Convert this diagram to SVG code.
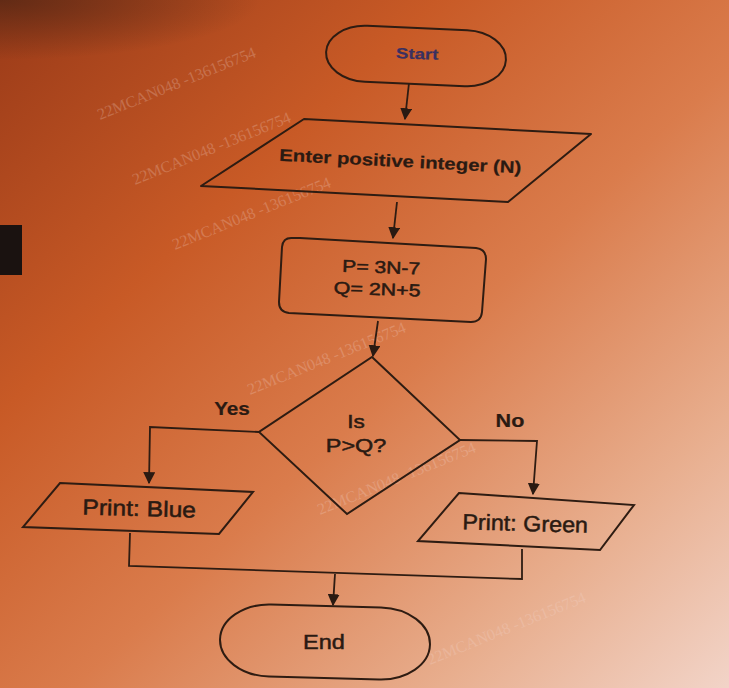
<svg xmlns="http://www.w3.org/2000/svg" width="729" height="688" viewBox="0 0 729 688">
<defs>
<linearGradient id="bg" x1="0" y1="0" x2="1" y2="1">
<stop offset="0" stop-color="#9a3a18"/>
<stop offset="0.3" stop-color="#c85a26"/>
<stop offset="0.55" stop-color="#da7c4c"/>
<stop offset="0.8" stop-color="#e8ae8e"/>
<stop offset="1" stop-color="#f2d4c8"/>
</linearGradient>
<radialGradient id="shade" cx="0" cy="0" r="1">
<stop offset="0" stop-color="#4a2414" stop-opacity="0.7"/>
<stop offset="1" stop-color="#4a2414" stop-opacity="0"/>
</radialGradient>
<marker id="ah" viewBox="0 0 10 10" refX="9" refY="5" markerWidth="12" markerHeight="12" orient="auto" markerUnits="userSpaceOnUse">
<path d="M0,0 L10,5 L0,10 z" fill="#2a1a12"/>
</marker>
<style>
.shape{fill:none;stroke:#2e1c12;stroke-width:2}
.line{fill:none;stroke:#2e1c12;stroke-width:1.8}
.t{font-family:"Liberation Sans",Arial,sans-serif;fill:#2a1a12;text-anchor:middle;stroke:#2a1a12;stroke-width:0.5}
.b{font-weight:bold;stroke-width:0.2}
.wm{font-family:"Liberation Serif","Times New Roman",serif;fill:#f4d8d0;opacity:0.25;font-size:16px}
</style>
</defs>
<rect width="729" height="688" fill="url(#bg)"/>
<rect x="0" y="0" width="260" height="60" fill="url(#shade)"/>
<rect x="0" y="225" width="22" height="50" fill="#1a1210"/>
<g id="watermarks">
<text class="wm" transform="translate(100,120) rotate(-22)">22MCAN048 -136156754</text>
<text class="wm" transform="translate(135,185) rotate(-22)">22MCAN048 -136156754</text>
<text class="wm" transform="translate(175,250) rotate(-22)">22MCAN048 -136156754</text>
<text class="wm" transform="translate(250,395) rotate(-22)">22MCAN048 -136156754</text>
<text class="wm" transform="translate(320,515) rotate(-22)">22MCAN048 -136156754</text>
<text class="wm" transform="translate(430,665) rotate(-22)">22MCAN048 -136156754</text>
</g>
<g id="connectors">
<path class="line" d="M409,83 L405,119" marker-end="url(#ah)"/>
<path class="line" d="M397,202 L393,238" marker-end="url(#ah)"/>
<path class="line" d="M378,321 L373,356" marker-end="url(#ah)"/>
<path class="line" d="M259,432 L150,427 L149,483" marker-end="url(#ah)"/>
<path class="line" d="M459,440 L537,441 L533,494" marker-end="url(#ah)"/>
<path class="line" d="M130,533 L129,566 L522,579 L522,549"/>
<path class="line" d="M335,574 L333,605" marker-end="url(#ah)"/>
<text class="t b" font-size="18" transform="translate(232,415) scale(1.15,1)">Yes</text>
<text class="t b" font-size="18" transform="translate(510,427) scale(1.2,1)">No</text>
</g>
<g id="start">
<rect class="shape" x="326" y="28" width="180" height="56" rx="40" ry="28" transform="rotate(2.5 416 56)"/>
<text class="t b" font-size="15" transform="translate(417,59) rotate(2) scale(1.25,1)" style="fill:#3a3060;stroke:#3a3060">Start</text>
</g>
<g id="input">
<path class="shape" d="M304,119 L591,134 L508,202 L201,186 Z" stroke-linejoin="round"/>
<text class="t b" font-size="17" transform="translate(400,167) rotate(3) scale(1.2,1)">Enter positive integer (N)</text>
</g>
<g id="process">
<path class="shape" d="M300,238 L476,248 Q486,249 486,259 L482,312 Q481,322 471,322 L289,313 Q279,312 279,302 L282,247 Q283,237 293,238 Z"/>
<text class="t" font-size="17" transform="translate(381,273) rotate(2) scale(1.24,1)">P= 3N-7</text>
<text class="t" font-size="17" transform="translate(377,295) rotate(2) scale(1.26,1)">Q= 2N+5</text>
</g>
<g id="decision">
<path class="shape" d="M372,357 L460,440 L347,514 L259,432 Z"/>
<text class="t" font-size="18" transform="translate(356,428) scale(1.25,1)">Is</text>
<text class="t" font-size="18" transform="translate(356,452) scale(1.3,1)">P&gt;Q?</text>
</g>
<g id="print-blue">
<path class="shape" d="M60,483 L253,492 L219,534 L23,527 Z"/>
<text class="t" font-size="22" transform="translate(139,516) rotate(1.5) scale(1.12,1)">Print: Blue</text>
</g>
<g id="print-green">
<path class="shape" d="M459,493 L634,505 L600,550 L418,541 Z"/>
<text class="t" font-size="22" transform="translate(525,531) rotate(1.5) scale(1.06,1)">Print: Green</text>
</g>
<g id="end">
<rect class="shape" x="220" y="606" width="210" height="72" rx="50" ry="36" transform="rotate(1.5 325 642)"/>
<text class="t" font-size="21" transform="translate(324,649) scale(1.12,1)">End</text>
</g>
</svg>
